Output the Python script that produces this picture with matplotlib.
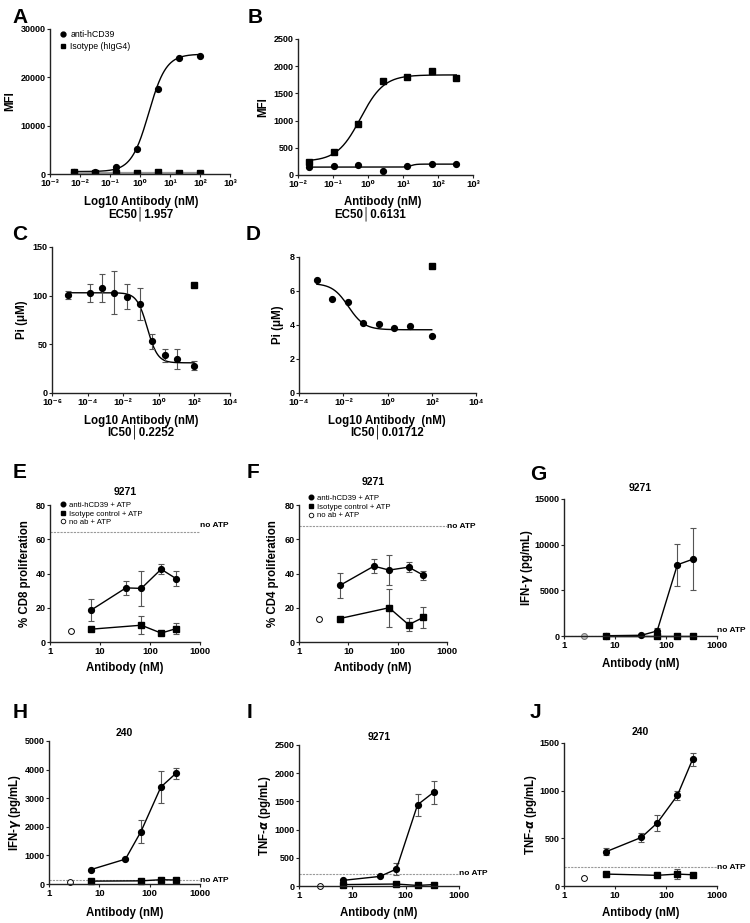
import matplotlib.pyplot as plt
import numpy as np
from matplotlib.lines import Line2D

# --- settings ---
plt.rcParams.update({
    "font.family": ["Liberation Sans", "DejaVu Sans"],
    "font.weight": "bold",
    "axes.labelweight": "bold",
    "font.size": 7,
    "axes.linewidth": 1.0,
    "axes.edgecolor": "#222222",
    "xtick.major.size": 2.5,
    "ytick.major.size": 2.5,
    "xtick.major.width": 0.8,
    "ytick.major.width": 0.8,
    "xtick.major.pad": 1.0,
    "ytick.major.pad": 0.8,
    "xtick.labelsize": 6.8,
    "ytick.labelsize": 6.5,
    "xtick.minor.visible": False,
    "ytick.minor.visible": False,
})

W, H = 750, 923

# --- data ---
# A: binding (MFI), 5-fold dilutions
a_conc = [0.0064, 0.032, 0.16, 0.8, 4, 20, 100]
a_anti = [400, 400, 1400, 5200, 17500, 24000, 24500]
a_iso = [350, 250, 300, 300, 400, 300, 300]
a_fit = (500, 24800, 1.957, 1.5)      # bottom, top, EC50, hill
a_iso_level = 280

# B: binding (MFI)
b_conc = [0.0213, 0.107, 0.53, 2.7, 13.3, 67, 333]
b_sq = [233, 424, 946, 1720, 1793, 1916, 1775]
b_ci = [141, 172, 190, 68, 160, 209, 197]
b_fit_sq = (250, 1840, 0.6131, 1.3)
b_fit_ci = (145, 200, 17, 6)

# C: Pi (uM), mean +/- error
c_conc = [8e-6, 1.3e-4, 6.8e-4, 3.2e-3, 0.017, 0.085, 0.41, 2.1, 11, 100]
c_pi = [101, 103, 108, 103, 99, 91, 53, 38.7, 35, 28]
c_err = [4, 9.5, 14, 22, 12.5, 16.5, 7.5, 6.7, 10, 4.8]
c_iso_conc, c_iso_pi = [100], [111]
c_fit = (31, 103, 0.2252, -1.5)

# D: Pi (uM)
d_conc = [6.4e-4, 3.2e-3, 0.016, 0.08, 0.4, 2, 10, 100]
d_pi = [6.63, 5.51, 5.37, 4.12, 4.04, 3.80, 3.96, 3.33]
d_iso_conc, d_iso_pi = [100], [7.47]
d_fit = (3.72, 6.45, 0.01712, -1.2)

# E-J: proliferation / cytokines
conc = [6.7, 33, 67, 167, 333]
iso_conc = [6.7, 67, 167, 333]

e_anti = [18.7, 31.6, 31.3, 42.5, 37.0]
e_anti_err = [6.2, 4.0, 10.3, 3.0, 4.5]
e_iso = [7.5, 9.8, 5.2, 7.8]
e_iso_err = [0, 5.4, 0, 3.1]
e_noab = (2.6, 6.5)
e_noatp = 64

f_anti = [33.0, 44.3, 42.0, 43.7, 39.0]
f_anti_err = [7.3, 4.2, 9.0, 3.1, 2.6]
f_iso = [13.7, 20.0, 10.1, 14.4]
f_iso_err = [0, 11.2, 3.8, 6.0]
f_noab = (2.5, 13.7)
f_noatp = 67.5

g_anti = [30, 80, 550, 7800, 8400]
g_anti_err = [0, 0, 300, 2300, 3400]
g_iso = [30, 30, 30, 30]
g_iso_err = [0, 0, 0, 0]
g_noab = (2.5, 0)
g_noatp = 0

h_anti = [500, 870, 1830, 3390, 3870]
h_anti_err = [0, 0, 410, 560, 200]
h_iso = [100, 110, 150, 140]
h_iso_err = [0, 0, 0, 0]
h_noab = (2.6, 70)
h_noatp = 130

i_anti = [100, 170, 300, 1440, 1660]
i_anti_err = [0, 0, 100, 200, 200]
i_iso = [25, 35, 10, 25]
i_iso_err = [0, 0, 0, 0]
i_noab = (2.5, 5)
i_noatp = 215

j_anti = [360, 510, 660, 950, 1330]
j_anti_err = [40, 50, 80, 50, 70]
j_iso = [125, 112, 125, 118]
j_iso_err = [0, 0, 50, 0]
j_noab = (2.5, 85)
j_noatp = 195

SUP = str.maketrans("-0123456789", "⁻⁰¹²³⁴⁵⁶⁷⁸⁹")


def four_pl(x, p):
    bottom, top, ec50, hill = p
    return bottom + (top - bottom) / (1 + (ec50 / x) ** hill)


def add_ax(x0, y0, x1, y1):
    ax = fig.add_axes([x0 / W, 1 - y1 / H, (x1 - x0) / W, (y1 - y0) / H])
    for s in ["top", "right"]:
        ax.spines[s].set_visible(False)
    ax.tick_params(colors="#222222", labelcolor="black")
    return ax


def ftext(x, y, s, **kw):
    fig.text(x / W, 1 - y / H, s, **kw)


def log_axis(ax, lo, hi, step=1, pow_labels=True):
    ax.set_xscale("log")
    ax.set_xlim(10.0 ** lo, 10.0 ** hi)
    exps = list(range(lo, hi + 1, step))
    ax.set_xticks([10.0 ** e for e in exps])
    if pow_labels:
        ax.set_xticklabels(["10" + str(e).translate(SUP) for e in exps])
    else:
        ax.set_xticklabels([str(int(10 ** e)) for e in exps])
    ax.minorticks_off()


def fit_line(ax, xs, p, **kw):
    xx = np.logspace(np.log10(xs[0]), np.log10(xs[-1]), 300)
    ax.plot(xx, four_pl(xx, p), color="black", lw=1.0, **kw)


fig = plt.figure(figsize=(7.5, 9.23), dpi=100)
ms = 4.2
ecol = "#555555"
lab_fs = 8.3

# ---------- A ----------
ax = add_ax(50, 29, 230, 174)
log_axis(ax, -3, 3)
ax.set_ylim(0, 30000)
ax.set_yticks([0, 10000, 20000, 30000])
fit_line(ax, a_conc, a_fit)
ax.plot([a_conc[0], a_conc[-1]], [a_iso_level, a_iso_level], color="#999999", lw=1.6)
ax.plot(a_conc, a_anti, "o", color="black", ms=ms)
ax.plot(a_conc, a_iso, "s", color="black", ms=ms)
hd = [Line2D([], [], marker="o", ls="", color="black", ms=3.5),
      Line2D([], [], marker="s", ls="", color="black", ms=3.5)]
ax.legend(hd, ["anti-hCD39", "Isotype (hIgG4)"], loc="upper left", frameon=False,
          bbox_to_anchor=(0.02, 1.035), prop={"size": 6.3, "weight": "normal"},
          handlelength=0.8, handletextpad=0.4, labelspacing=0.35, borderpad=0.2)
ftext(10, 101, "MFI", rotation=90, ha="center", va="center", fontsize=lab_fs)
ftext(141, 202.5, "Log10 Antibody (nM)", ha="center", va="center", fontsize=lab_fs)
ftext(141, 214, "EC50│1.957", ha="center", va="center", fontsize=lab_fs)

# ---------- B ----------
ax = add_ax(298, 39, 473, 175)
log_axis(ax, -2, 3)
ax.set_ylim(0, 2500)
ax.set_yticks(range(0, 2501, 500))
fit_line(ax, b_conc, b_fit_sq)
fit_line(ax, b_conc, b_fit_ci)
ax.plot(b_conc, b_sq, "s", color="black", ms=ms)
ax.plot(b_conc, b_ci, "o", color="black", ms=ms)
ftext(263, 107, "MFI", rotation=90, ha="center", va="center", fontsize=lab_fs)
ftext(383, 202.5, "Antibody (nM)", ha="center", va="center", fontsize=lab_fs)
ftext(370, 214, "EC50│0.6131", ha="center", va="center", fontsize=lab_fs)

# ---------- C ----------
ax = add_ax(52, 247, 230, 393)
log_axis(ax, -6, 4, 2)
ax.set_ylim(0, 150)
ax.set_yticks([0, 50, 100, 150])
fit_line(ax, c_conc, c_fit)
ax.errorbar(c_conc, c_pi, yerr=c_err, fmt="o", color="black", ms=ms,
            ecolor=ecol, elinewidth=0.8, capsize=2, capthick=0.8)
ax.plot(c_iso_conc, c_iso_pi, "s", color="black", ms=ms)
ftext(22, 320, "Pi (μM)", rotation=90, ha="center", va="center", fontsize=lab_fs)
ftext(141, 420.5, "Log10 Antibody (nM)", ha="center", va="center", fontsize=lab_fs)
ftext(141, 432, "IC50│0.2252", ha="center", va="center", fontsize=lab_fs)

# ---------- D ----------
ax = add_ax(299, 257, 476, 393)
log_axis(ax, -4, 4, 2)
ax.set_ylim(0, 8)
ax.set_yticks([0, 2, 4, 6, 8])
fit_line(ax, d_conc, d_fit)
ax.plot(d_conc, d_pi, "o", color="black", ms=ms)
ax.plot(d_iso_conc, d_iso_pi, "s", color="black", ms=ms)
ftext(278, 325, "Pi (μM)", rotation=90, ha="center", va="center", fontsize=lab_fs)
ftext(387, 420.5, "Log10 Antibody  (nM)", ha="center", va="center", fontsize=lab_fs)
ftext(387, 432, "IC50│0.01712", ha="center", va="center", fontsize=lab_fs)


# ---------- E-J ----------
def prolif(rect, anti, anti_err, iso, iso_err, noab, noatp, ylim, yticks,
           title, title_y, ylabel, ylabel_x, xlabel_y, noatp_dy=0, gray_noab=False,
           legend=None):
    ax = add_ax(*rect)
    log_axis(ax, 0, 3, pow_labels=False)
    ax.set_ylim(*ylim)
    ax.set_yticks(yticks)
    ax.axhline(noatp, color="#999999", lw=0.8, ls=(0, (2, 1)), zorder=1)
    ax.text(1.0, noatp + noatp_dy, "no ATP", transform=ax.get_yaxis_transform(),
            ha="left", va="center", fontsize=6, clip_on=False)
    ax.errorbar(conc, anti, yerr=anti_err, fmt="-o", color="black", ms=ms, lw=1.0,
                ecolor=ecol, elinewidth=0.8, capsize=2, capthick=0.8, clip_on=False)
    ax.errorbar(iso_conc, iso, yerr=iso_err, fmt="-s", color="black", ms=ms, lw=1.0,
                ecolor=ecol, elinewidth=0.8, capsize=2, capthick=0.8, clip_on=False)
    if gray_noab:
        ax.plot([noab[0]], [noab[1]], "o", mfc="#c8c8c8", mec="#777777", ms=ms, mew=0.8,
                clip_on=False)
    else:
        ax.plot([noab[0]], [noab[1]], "o", mfc="white", mec="black", ms=ms, mew=0.7,
                clip_on=False)
    cx = (rect[0] + rect[2]) / 2
    ftext(cx, title_y, title, ha="center", va="center", fontsize=7.5)
    ftext(ylabel_x, (rect[1] + rect[3]) / 2, ylabel, rotation=90, ha="center",
          va="center", fontsize=lab_fs)
    ftext(cx, xlabel_y, "Antibody (nM)", ha="center", va="center", fontsize=lab_fs)
    if legend:
        hd = [Line2D([], [], marker="o", ls="", color="black", ms=3.3),
              Line2D([], [], marker="s", ls="", color="black", ms=3.3),
              Line2D([], [], marker="o", ls="", mfc="white", mec="black", ms=3.3, mew=0.6)]
        ax.legend(hd, ["anti-hCD39 + ATP", "Isotype control + ATP", "no ab + ATP"],
                  loc="upper left", frameon=False, bbox_to_anchor=legend,
                  prop={"size": 5.6, "weight": "normal"}, handlelength=0.7,
                  handletextpad=0.4, labelspacing=0.15, borderpad=0.1)
    return ax


prolif((50, 505, 200, 642), e_anti, e_anti_err, e_iso, e_iso_err, e_noab, e_noatp,
       (0, 80), [0, 20, 40, 60, 80], "9271", 492, "% CD8 proliferation", 25, 668,
       noatp_dy=4, legend=(0.04, 1.06))
prolif((299, 505, 447, 642), f_anti, f_anti_err, f_iso, f_iso_err, f_noab, f_noatp,
       (0, 80), [0, 20, 40, 60, 80], "9271", 482, "% CD4 proliferation", 273, 668,
       legend=(0.03, 1.11))
prolif((564, 499, 717, 636), g_anti, g_anti_err, g_iso, g_iso_err, g_noab, g_noatp,
       (0, 15000), [0, 5000, 10000, 15000], "9271", 488, "IFN-$\\gamma$ (pg/mL)", 527, 664,
       noatp_dy=650, gray_noab=True)
prolif((49, 741, 200, 884), h_anti, h_anti_err, h_iso, h_iso_err, h_noab, h_noatp,
       (0, 5000), [0, 1000, 2000, 3000, 4000, 5000], "240", 733, "IFN-$\\gamma$ (pg/mL)", 15, 913)
prolif((299, 745, 459, 886), i_anti, i_anti_err, i_iso, i_iso_err, i_noab, i_noatp,
       (0, 2500), [0, 500, 1000, 1500, 2000, 2500], "9271", 737, "TNF-$\\alpha$ (pg/mL)", 265, 913)
prolif((564, 743, 717, 886), j_anti, j_anti_err, j_iso, j_iso_err, j_noab, j_noatp,
       (0, 1500), [0, 500, 1000, 1500], "240", 732, "TNF-$\\alpha$ (pg/mL)", 531, 913)

# panel letters
for lab, x, y in [("A", 12, 23), ("B", 248, 23), ("C", 12, 240), ("D", 246, 240),
                  ("E", 13, 478), ("F", 247, 478), ("G", 530, 480),
                  ("H", 13, 718), ("I", 247, 718), ("J", 530, 718)]:
    ftext(x, y, lab, ha="left", va="baseline", fontsize=15)

plt.savefig("out.png", dpi=100)
